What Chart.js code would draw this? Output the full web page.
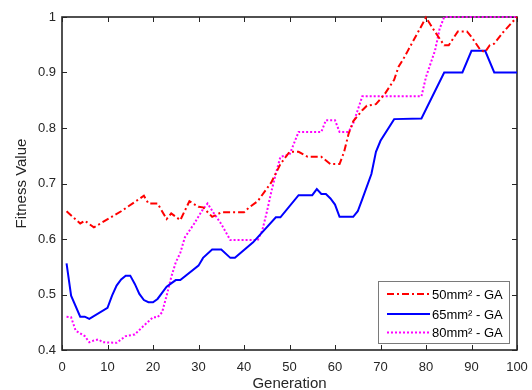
<!DOCTYPE html>
<html><head><meta charset="utf-8">
<script src="https://cdn.jsdelivr.net/npm/chart.js@4.4.1/dist/chart.umd.min.js"></script>
<style>html,body{margin:0;padding:0;background:#fff;}#wrap{width:532px;height:390px;}</style>
</head><body><div id="wrap"><canvas id="c" width="532" height="390"></canvas></div>
<script>
// ---- data ----
const gen50 = [1,4,5,7,13,18,19,21,23,24,26,28,30,31,33,35,40,41,43,46,48,50,52,54,57,59,61,62,63,64,66,67,69,71,73,74,75,76,77,78,80,82,84,85,87,89,90,92,93,94,95,97,100];
const fit50 = [0.650,0.628,0.633,0.621,0.650,0.678,0.664,0.664,0.636,0.646,0.634,0.668,0.658,0.657,0.640,0.648,0.648,0.656,0.668,0.702,0.735,0.757,0.757,0.748,0.748,0.735,0.735,0.757,0.790,0.812,0.832,0.840,0.843,0.862,0.887,0.911,0.924,0.939,0.954,0.969,0.999,0.973,0.949,0.949,0.974,0.974,0.964,0.940,0.937,0.949,0.952,0.973,1.000];

const gen65 = [1,2,4,5,6,10,11,12,13,14,15,16,17,18,19,20,21,23,24,25,26,30,31,33,35,37,38,42,47,48,52,55,56,57,58,59,60,61,64,65,66,68,69,70,73,79,84,88,90,93,95,100];
const fit65 = [0.556,0.498,0.460,0.460,0.456,0.476,0.498,0.516,0.527,0.534,0.534,0.519,0.501,0.490,0.486,0.486,0.492,0.514,0.520,0.526,0.526,0.552,0.566,0.581,0.581,0.566,0.566,0.594,0.639,0.639,0.679,0.679,0.690,0.681,0.681,0.673,0.662,0.640,0.640,0.650,0.672,0.717,0.757,0.777,0.816,0.817,0.900,0.900,0.939,0.939,0.900,0.900];

const gen80 = [1,2,3,5,6,7,8,9,12,13,14,16,18,20,21,22,23,24,25,26,27,29,31,32,33,35,37,43,44,45,46,47,48,50,52,57,58,60,61,63,64,66,79,80,82,83,84,100];
const fit80 = [0.460,0.459,0.435,0.425,0.414,0.417,0.419,0.414,0.413,0.419,0.425,0.428,0.444,0.459,0.459,0.468,0.498,0.531,0.558,0.575,0.603,0.627,0.654,0.664,0.651,0.627,0.598,0.598,0.615,0.648,0.685,0.718,0.748,0.752,0.793,0.793,0.814,0.814,0.793,0.793,0.808,0.857,0.857,0.892,0.940,0.979,1.000,1.000];

const seriesNames = ['50mm\u00B2 - GA','65mm\u00B2 - GA','80mm\u00B2 - GA'];
const xTicks = [0,10,20,30,40,50,60,70,80,90,100];
const yTicks = [0.4,0.5,0.6,0.7,0.8,0.9,1];
const yTickLabels = ['0.4','0.5','0.6','0.7','0.8','0.9','1'];
const xTitle = 'Generation';
const yTitle = 'Fitness Value';

const FONT = "'Liberation Sans', Arial, sans-serif";
const AXIS = '#262626';

function pts(xs, ys){ return xs.map((g,i)=>({x:g, y:ys[i]})); }

const framePlugin = {
  id:'frame',
  beforeDatasetsDraw(chart){
    const {ctx, chartArea:a, scales:{x,y}} = chart;
    ctx.save();
    ctx.strokeStyle = AXIS;
    ctx.lineWidth = 1;
    const L = 5;
    ctx.beginPath();
    xTicks.forEach(v=>{
      const px = Math.round(x.getPixelForValue(v))+0.5;
      ctx.moveTo(px,a.bottom); ctx.lineTo(px,a.bottom-L);
      ctx.moveTo(px,a.top); ctx.lineTo(px,a.top+L);
    });
    yTicks.forEach(v=>{
      const py = Math.round(y.getPixelForValue(v))+0.5;
      ctx.moveTo(a.left,py); ctx.lineTo(a.left+L,py);
      ctx.moveTo(a.right,py); ctx.lineTo(a.right-L,py);
    });
    ctx.stroke();
    ctx.lineWidth = 1.6;
    ctx.strokeRect(a.left, a.top, a.right-a.left, a.bottom-a.top);
    ctx.restore();
  }
};

const legendPlugin = {
  id:'boxLegend',
  afterDraw(chart){
    const {ctx, chartArea:a} = chart;
    const bw = 131, bh = 62;
    const bx = a.right - 8 - bw, by = a.bottom - 7 - bh;
    ctx.save();
    ctx.fillStyle = '#fff';
    ctx.fillRect(bx,by,bw,bh);
    ctx.strokeStyle = '#7a7a7a';
    ctx.lineWidth = 1;
    ctx.strokeRect(bx+0.5,by+0.5,bw,bh);
    const rows = [by+13, by+33, by+51.5];
    chart.data.datasets.forEach((ds,i)=>{
      const yy = rows[i];
      ctx.beginPath();
      ctx.strokeStyle = ds.borderColor;
      ctx.lineWidth = ds.borderWidth;
      ctx.setLineDash(ds.borderDash || []);
      ctx.moveTo(bx+9, yy); ctx.lineTo(bx+52, yy);
      ctx.stroke();
      ctx.setLineDash([]);
      ctx.fillStyle = '#000';
      ctx.font = '13px ' + FONT;
      ctx.textBaseline = 'middle';
      ctx.textAlign = 'left';
      ctx.fillText(ds.label, bx+54, yy+1);
    });
    ctx.restore();
  }
};

new Chart(document.getElementById('c'), {
  type:'line',
  data:{
    datasets:[
      {label:seriesNames[0], data:pts(gen50,fit50), borderColor:'#ff0000', borderWidth:2, borderDash:[7,3,2,3], pointRadius:0, tension:0, clip:4},
      {label:seriesNames[1], data:pts(gen65,fit65), borderColor:'#0000ff', borderWidth:2, pointRadius:0, tension:0, clip:4},
      {label:seriesNames[2], data:pts(gen80,fit80), borderColor:'#ff00ff', borderWidth:2, borderDash:[2,2], pointRadius:0, tension:0, clip:4}
    ]
  },
  options:{
    responsive:false,
    animation:false,
    devicePixelRatio:1,
    layout:{padding:{top:17,right:15,left:0,bottom:0}},
    plugins:{legend:{display:false}, tooltip:{enabled:false}},
    scales:{
      x:{
        type:'linear', min:0, max:100,
        afterFit(s){ s.height = 40; s.paddingLeft = 0; s.paddingRight = 0; },
        afterBuildTicks(s){ s.ticks = xTicks.map(v=>({value:v})); },
        grid:{display:false, drawTicks:false},
        border:{display:false},
        ticks:{color:AXIS, font:{family:FONT,size:13}, padding:10, maxRotation:0, autoSkip:false, callback:(v)=>String(v)},
        title:{display:true, text:xTitle, color:AXIS, font:{family:FONT,size:15,lineHeight:1}, padding:{top:0,bottom:-1}}
      },
      y:{
        type:'linear', min:0.4, max:1,
        afterFit(s){ s.width = 62; s.paddingTop = 0; s.paddingBottom = 0; },
        afterBuildTicks(s){ s.ticks = yTicks.map(v=>({value:v})); },
        grid:{display:false, drawTicks:false},
        border:{display:false},
        ticks:{color:AXIS, font:{family:FONT,size:13}, padding:6, autoSkip:false, callback:(v,i)=>yTickLabels[i]},
        title:{display:true, text:yTitle, color:AXIS, font:{family:FONT,size:15,lineHeight:1}, padding:{top:14,bottom:0}}
      }
    }
  },
  plugins:[framePlugin, legendPlugin]
});
</script>
</body></html>
